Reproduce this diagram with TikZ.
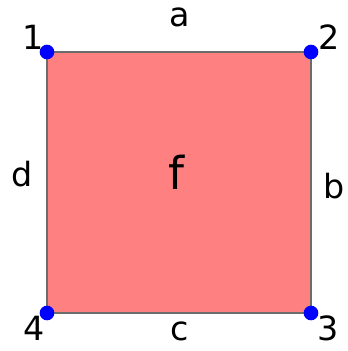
\documentclass[tikz,border=0pt]{standalone}
\usepackage{fontspec}
\setmainfont{DejaVu Sans}
\usetikzlibrary{positioning}

\begin{document}
\begin{tikzpicture}[
        x=0.75pt, y=-0.75pt,
        every node/.style={font=\fontsize{25}{28}\selectfont},
        vertex/.style={circle, fill=blue, inner sep=0pt, minimum size=11pt},
        edge/.style={draw=gray!85!black, line width=1.2pt},
        facelabel/.style={font=\fontsize{34}{38}\selectfont}
    ]
        \useasboundingbox (0,0) rectangle (348,351);

        % Corners of the face
        \coordinate (c1) at (47,52);
        \coordinate (c2) at (311,52);
        \coordinate (c3) at (311,313);
        \coordinate (c4) at (47,313);

        % Face and its edges
        \fill[red!50] (c1) rectangle (c3);
        \draw[edge] (c1) -- (c2) -- (c3) -- (c4) -- cycle;

        % Vertices
        \node[vertex] (v1) at (c1) {};
        \node[vertex] (v2) at (c2) {};
        \node[vertex] (v3) at (c3) {};
        \node[vertex] (v4) at (c4) {};

        % Vertex numbers
        \node (n1) at (33,37) {1};
        \node (n2) at (329,37) {2};
        \node (n3) at (328,328) {3};
        \node (n4) at (34,328) {4};

        % Edge and face labels
        \node (la) at (180,17) {a};
        \node (lb) at (334,186) {b};
        \node (lc) at (180,331) {c};
        \node (ld) at (22,174) {d};
        \node[facelabel] (lf) at (176,172) {f};

    \end{tikzpicture}
\end{document}
